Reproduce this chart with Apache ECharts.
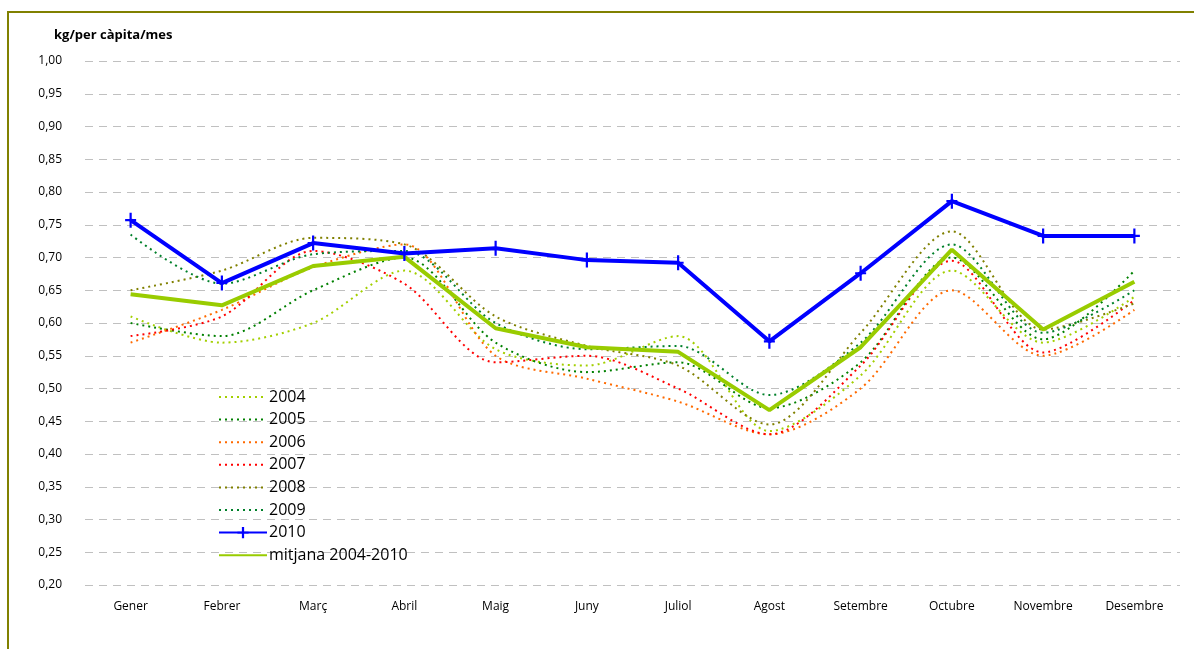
<!DOCTYPE html>
<html>
<head>
<meta charset="utf-8">
<script src="https://cdn.jsdelivr.net/npm/echarts@6/dist/echarts.min.js"></script>
<style>
html,body{margin:0;padding:0;background:#fff;}
#frame{position:absolute;left:7px;top:11px;width:1200px;height:650px;border-left:2px solid #808000;border-top:2px solid #808000;}
#chart{position:absolute;left:0;top:0;width:1194px;height:649px;}
</style>
</head>
<body>
<div id="frame"></div>
<div id="chart"></div>
<script>
var months=["Gener","Febrer","Març","Abril","Maig","Juny","Juliol","Agost","Setembre","Octubre","Novembre","Desembre"];
var y2004=[0.61,0.57,0.60,0.68,0.56,0.535,0.58,0.435,0.52,0.68,0.57,0.64];
var y2005=[0.60,0.58,0.65,0.70,0.57,0.525,0.54,0.47,0.54,0.70,0.575,0.68];
var y2006=[0.57,0.62,0.685,0.72,0.55,0.515,0.48,0.43,0.50,0.65,0.55,0.62];
var y2007=[0.58,0.61,0.71,0.66,0.54,0.55,0.50,0.43,0.535,0.695,0.555,0.635];
var y2008=[0.65,0.68,0.73,0.72,0.61,0.565,0.535,0.445,0.585,0.74,0.59,0.63];
var y2009=[0.735,0.66,0.705,0.71,0.60,0.56,0.565,0.49,0.57,0.72,0.585,0.65];
var y2010=[0.757,0.661,0.722,0.706,0.714,0.696,0.692,0.572,0.676,0.786,0.733,0.733];
var mitjana=[0.644,0.627,0.687,0.701,0.592,0.563,0.556,0.467,0.563,0.712,0.590,0.663];
var yearNames=["2004","2005","2006","2007","2008","2009"];
var yearData=[y2004,y2005,y2006,y2007,y2008,y2009];
var yearColors=["#a3cf00","#008000","#ff6a00","#ff0000","#808000","#00802a"];

function dotted(name,data,color){
	return {
		name:name,type:"line",data:data,smooth:0.3,
		symbol:"none",z:2,
		lineStyle:{color:color,width:2,type:[2,4]},
		itemStyle:{color:color}
	};
}
var series=[];
var legendData=[];
for(var i=0;i<yearNames.length;i++){
	series[series.length]=dotted(yearNames[i],yearData[i],yearColors[i]);
	legendData[legendData.length]={name:yearNames[i],itemStyle:{opacity:0}};
}
series[series.length]={
	name:"2010",type:"line",data:y2010,z:5,
	symbol:"path://M4,0h2v6h4v2h-4v6h-2v-6h-4v-2h4z",symbolSize:[11,15],showSymbol:true,
	lineStyle:{color:"#0000ff",width:4},
	itemStyle:{color:"#0000ff"}
};
legendData[legendData.length]={name:"2010"};
series[series.length]={
	name:"mitjana 2004-2010",type:"line",data:mitjana,z:4,
	symbol:"none",
	lineStyle:{color:"#99cc00",width:4},
	itemStyle:{color:"#99cc00"}
};
legendData[legendData.length]={name:"mitjana 2004-2010",itemStyle:{opacity:0}};

var font="'Open Sans','Noto Sans',sans-serif";
var chart=echarts.init(document.getElementById("chart"),null,{renderer:"canvas"});
chart.setOption({
	animation:false,
	backgroundColor:"transparent",
	title:{text:"kg/per càpita/mes",left:49,top:24,textStyle:{fontFamily:font,fontSize:13,fontWeight:"bold",color:"#000"}},
	grid:{left:85,right:14,top:61,bottom:64},
	legend:{
		orient:"vertical",left:213,top:384,itemWidth:48,itemHeight:14,itemGap:6.6,
		textStyle:{fontFamily:font,fontSize:16,color:"#000",padding:[0,0,0,-3]},
		data:legendData
	},
	xAxis:{
		type:"category",data:months,boundaryGap:true,
		axisLine:{show:false},axisTick:{show:false},
		axisLabel:{fontFamily:font,fontSize:12,color:"#000",margin:16}
	},
	yAxis:{
		type:"value",min:0.20,max:1.00,interval:0.05,
		axisLine:{show:false},axisTick:{show:false},
		axisLabel:{fontFamily:font,fontSize:12,color:"#000",margin:23,formatter:function(v){return v.toFixed(2).replace(".",",");}},
		splitLine:{lineStyle:{color:"#c0c0c0",width:1,type:[8,6]}}
	},
	series:series
});
</script>
</body>
</html>
